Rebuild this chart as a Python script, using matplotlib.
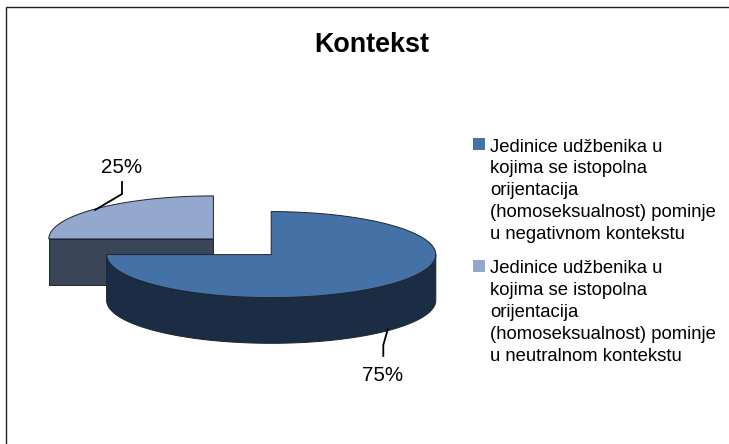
import numpy as np
import matplotlib
matplotlib.use("Agg")
import matplotlib.pyplot as plt
from matplotlib.patches import Rectangle

plt.rcParams['font.family'] = ['Liberation Sans', 'DejaVu Sans']

# Data
title = "Kontekst"
values = [75, 25]
labels = [
    "Jedinice udžbenika u\nkojima se istopolna\norijentacija\n(homoseksualnost) pominje\nu negativnom kontekstu",
    "Jedinice udžbenika u\nkojima se istopolna\norijentacija\n(homoseksualnost) pominje\nu neutralnom kontekstu",
]
top_colors = ["#4472A6", "#94A8CF"]
side_colors = ["#1B2D45", "#3A4558"]

# Layout (pixel space of the figure)
W, H = 729, 444
centers = [(271.2, 254.6), (213.4, 238.9)]
RX, RY, DEPTH = 164.6, 43.0, 45.7
label_pos = [(383, 375), (122, 167)]
leaders = [[(387.7, 329.5), (383.3, 345), (383.3, 356)],
           [(95, 210), (122, 194), (122, 182)]]
legend_marker_y = [138.3, 260.0]
legend_text_y = [190.8, 312.4]

fig = plt.figure(figsize=(W / 100, H / 100), dpi=100, facecolor="white")
ax = fig.add_axes([0, 0, 1, 1])
ax.set_xlim(0, W)
ax.set_ylim(H, 0)
ax.axis("off")

# Chart frame: only the top and left edges are visible
ax.plot([6.5, 6.5, W], [H, 7.5, 7.5], color="#222222", lw=1.0, solid_joinstyle="miter")


def pt(c, a, dy=0.0):
    a = np.asarray(a)
    return c[0] + RX * np.cos(a), c[1] - RY * np.sin(a) + dy


def wedge(val, start, c, top, side, z):
    end = start - val / sum(values) * 2 * np.pi
    edge = dict(edgecolor="#20242c", linewidth=0.7, joinstyle="round")
    # outer rim: the part of the arc in the lower half
    grid = np.linspace(start, end, 360)
    low = grid[np.sin(grid) <= 1e-9]
    if low.size > 1:
        x, y = pt(c, low)
        xb, yb = pt(c, low[::-1], DEPTH)
        ax.fill(np.r_[x, xb], np.r_[y, yb], facecolor=side, zorder=z, **edge)
    # cut faces which look towards the viewer
    for a, visible in ((start, np.cos(start) < -1e-9), (end, np.cos(end) > 1e-9)):
        if visible:
            x, y = pt(c, a)
            ax.fill([c[0], x, x, c[0]], [c[1], y, y + DEPTH, c[1] + DEPTH],
                    facecolor=side, zorder=z, **edge)
    # top face
    x, y = pt(c, grid)
    ax.fill(np.r_[c[0], x], np.r_[c[1], y], facecolor=top, zorder=z + 1, **edge)
    return end


angles = [np.pi / 2]
for v in values:
    angles.append(angles[-1] - v / sum(values) * 2 * np.pi)

# back slice first, then front slice
wedge(values[1], angles[1], centers[1], top_colors[1], side_colors[1], 2)
wedge(values[0], angles[0], centers[0], top_colors[0], side_colors[0], 4)

for v, p, l in zip(values, label_pos, leaders):
    ax.plot(*zip(*l), color="black", lw=1.3, zorder=8, solid_joinstyle="miter")
    pct = f"{v / sum(values) * 100:.0f}%"
    ax.text(p[0], p[1], pct, ha="center", va="center", fontsize=14.8, color="black", zorder=9)

ax.text(372, 44.5, title, ha="center", va="center", fontsize=19.4, fontweight="bold", color="black")

for lab, col, my, ty in zip(labels, top_colors, legend_marker_y, legend_text_y):
    ax.add_patch(Rectangle((473.3, my), 12, 12, facecolor=col, edgecolor="none", zorder=5))
    ax.text(490, ty, lab, ha="left", va="center", fontsize=13.3, linespacing=1.37,
            color="black", zorder=6)

fig.savefig("out.png", dpi=100, facecolor="white")
